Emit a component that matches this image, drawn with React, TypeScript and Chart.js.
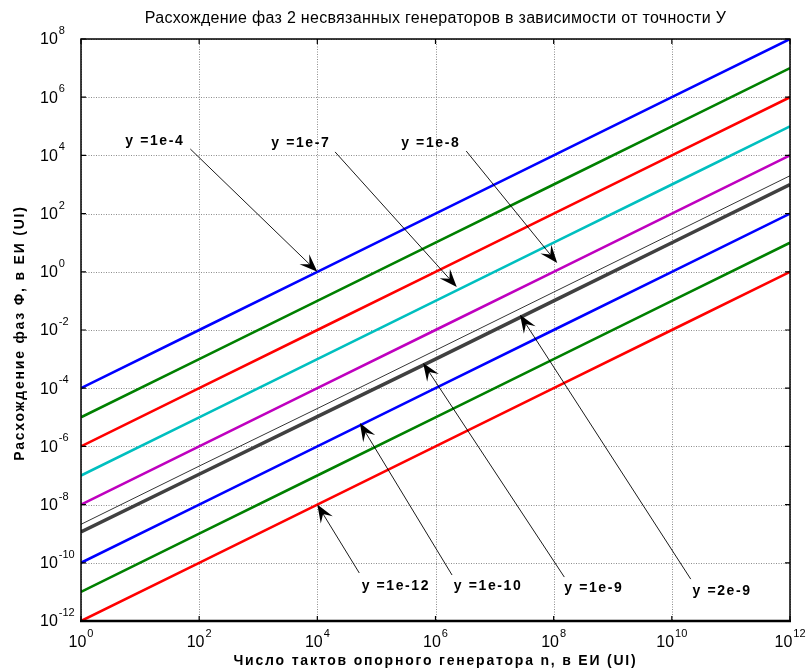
import React, { useEffect, useRef } from 'react';
import { Chart, registerables } from 'chart.js';

Chart.register(...registerables);

const TITLE = 'Расхождение фаз 2 несвязанных генераторов в зависимости от точности У';
const X_TITLE = 'Число тактов опорного генератора n, в ЕИ (UI)';
const Y_TITLE = 'Расхождение фаз Φ, в ЕИ (UI)';

// x values (number of reference clock cycles)
const N = [1, 1e2, 1e4, 1e6, 1e8, 1e10, 1e12];
// tick exponents
const X_TICK_EXP = [0, 2, 4, 6, 8, 10, 12];
const Y_TICK_EXP = [8, 6, 4, 2, 0, -2, -4, -6, -8, -10, -12];

// series values
const S_1E4 = [1e-4, 1e-2, 1, 1e2, 1e4, 1e6, 1e8];
const S_1E5 = [1e-5, 1e-3, 1e-1, 1e1, 1e3, 1e5, 1e7];
const S_1E6 = [1e-6, 1e-4, 1e-2, 1, 1e2, 1e4, 1e6];
const S_1E7 = [1e-7, 1e-5, 1e-3, 1e-1, 1e1, 1e3, 1e5];
const S_1E8 = [1e-8, 1e-6, 1e-4, 1e-2, 1, 1e2, 1e4];
const S_2E9 = [2.1e-9, 2.1e-7, 2e-5, 2e-3, 2e-1, 2e1, 2e3];
const S_1E9 = [1.15e-9, 1.1e-7, 1.05e-5, 1e-3, 1e-1, 1e1, 1e3];
const S_1E10 = [1e-10, 1e-8, 1e-6, 1e-4, 1e-2, 1, 1e2];
const S_1E11 = [1e-11, 1e-9, 1e-7, 1e-5, 1e-3, 1e-1, 1e1];
const S_1E12 = [1e-12, 1e-10, 1e-8, 1e-6, 1e-4, 1e-2, 1];

// annotations (in log10 data coordinates)
const ANN_LABELS = ['y =1e-4', 'y =1e-7', 'y =1e-8', 'y =1e-12', 'y =1e-10', 'y =1e-9', 'y =2e-9'];
const ANN_LABEL_AT = [[1.25, 4.49], [3.72, 4.43], [5.92, 4.43], [5.33, -10.8], [6.89, -10.8], [8.68, -10.87], [10.85, -10.97]];
const ANN_TAIL = [[1.85, 4.22], [4.3, 4.12], [6.52, 4.15], [4.71, -10.35], [6.28, -10.42], [8.18, -10.49], [10.32, -10.56]];
const ANN_TIP = [[4, 0], [6.36, -0.52], [8.06, 0.3], [4, -8], [4.72, -5.2], [5.79, -3.13], [7.43, -1.48]];

const FONT = '"Liberation Sans", Arial, Helvetica, sans-serif';

const SERIES = [
  { data: S_1E4, color: '#0000ff', width: 2.6 },
  { data: S_1E5, color: '#008000', width: 2.6 },
  { data: S_1E6, color: '#ff0000', width: 2.6 },
  { data: S_1E7, color: '#00bfbf', width: 2.6 },
  { data: S_1E8, color: '#bf00bf', width: 2.6 },
  { data: S_2E9, color: '#000000', width: 0.8 },
  { data: S_1E9, color: '#404040', width: 3.5 },
  { data: S_1E10, color: '#0000ff', width: 2.6 },
  { data: S_1E11, color: '#008000', width: 2.6 },
  { data: S_1E12, color: '#ff0000', width: 2.6 },
];

function drawArrow(ctx: CanvasRenderingContext2D, x1: number, y1: number, x2: number, y2: number) {
  const a = Math.atan2(y2 - y1, x2 - x1);
  const c = Math.cos(a), s = Math.sin(a);
  const L = 18, W = 7, notch = 11;
  ctx.save();
  ctx.strokeStyle = '#000';
  ctx.lineWidth = 0.9;
  ctx.beginPath();
  ctx.moveTo(x1, y1);
  ctx.lineTo(x2 - notch * c, y2 - notch * s);
  ctx.stroke();
  ctx.fillStyle = '#000';
  ctx.beginPath();
  ctx.moveTo(x2, y2);
  ctx.lineTo(x2 - L * c + W * s, y2 - L * s - W * c);
  ctx.lineTo(x2 - notch * c, y2 - notch * s);
  ctx.lineTo(x2 - L * c - W * s, y2 - L * s + W * c);
  ctx.closePath();
  ctx.fill();
  ctx.restore();
}

const decorPlugin = {
  id: 'decor',
  beforeDatasetsDraw(chart: any) {
    const { ctx, chartArea: a, scales } = chart;
    const xs = scales.x, ys = scales.y;
    ctx.save();
    ctx.strokeStyle = '#8c8c8c';
    ctx.lineWidth = 1;
    ctx.setLineDash([1, 1.5]);
    for (const e of X_TICK_EXP) {
      const x = Math.round(xs.getPixelForValue(Math.pow(10, e))) + 0.5;
      ctx.beginPath();
      ctx.moveTo(x, a.top);
      ctx.lineTo(x, a.bottom);
      ctx.stroke();
    }
    for (const e of Y_TICK_EXP) {
      const y = Math.round(ys.getPixelForValue(Math.pow(10, e))) + 0.5;
      ctx.beginPath();
      ctx.moveTo(a.left, y);
      ctx.lineTo(a.right, y);
      ctx.stroke();
    }
    ctx.restore();
  },
  afterDraw(chart: any) {
    const { ctx, chartArea: a, scales } = chart;
    const xs = scales.x, ys = scales.y;
    const px = (e: number) => xs.getPixelForValue(Math.pow(10, e));
    const py = (e: number) => ys.getPixelForValue(Math.pow(10, e));
    ctx.save();

    // frame
    ctx.strokeStyle = '#000';
    ctx.lineWidth = 1.5;
    ctx.strokeRect(a.left, a.top, a.right - a.left, a.bottom - a.top);
    ctx.lineWidth = 2.5;
    ctx.beginPath();
    ctx.moveTo(a.left - 1, a.bottom);
    ctx.lineTo(a.right + 1, a.bottom);
    ctx.stroke();

    // tick marks inside
    ctx.lineWidth = 1.2;
    const tl = 5;
    for (const e of X_TICK_EXP) {
      const x = px(e);
      ctx.beginPath();
      ctx.moveTo(x, a.bottom); ctx.lineTo(x, a.bottom - tl);
      ctx.moveTo(x, a.top); ctx.lineTo(x, a.top + tl);
      ctx.stroke();
    }
    for (const e of Y_TICK_EXP) {
      const y = py(e);
      ctx.beginPath();
      ctx.moveTo(a.left, y); ctx.lineTo(a.left + tl, y);
      ctx.moveTo(a.right, y); ctx.lineTo(a.right - tl, y);
      ctx.stroke();
    }

    // tick labels
    ctx.fillStyle = '#000';
    ctx.textBaseline = 'middle';
    const baseFont = `16px ${FONT}`;
    const expFont = `11px ${FONT}`;
    for (const e of Y_TICK_EXP) {
      const y = py(e);
      ctx.font = baseFont;
      ctx.textAlign = 'left';
      ctx.fillText('10', 40, y + 1);
      const w = ctx.measureText('10').width;
      ctx.font = expFont;
      ctx.fillText(String(e), 40 + w + 1, y - 8);
    }
    for (const e of X_TICK_EXP) {
      const x = px(e);
      ctx.font = baseFont;
      const w10 = ctx.measureText('10').width;
      ctx.font = expFont;
      const we = ctx.measureText(String(e)).width;
      const start = x - (w10 + 1 + we) / 2;
      ctx.textAlign = 'left';
      ctx.font = baseFont;
      ctx.fillText('10', start, 643);
      ctx.font = expFont;
      ctx.fillText(String(e), start + w10 + 1, 634);
    }

    // title
    ctx.textAlign = 'center';
    ctx.font = `16px ${FONT}`;
    (ctx as any).letterSpacing = '0.3px';
    ctx.fillText(TITLE, (a.left + a.right) / 2, 19);

    // axis titles
    ctx.font = `bold 14px ${FONT}`;
    (ctx as any).letterSpacing = '1.8px';
    ctx.fillText(X_TITLE, (a.left + a.right) / 2, 661);
    ctx.save();
    ctx.translate(20, (a.top + a.bottom) / 2 + 3);
    ctx.rotate(-Math.PI / 2);
    ctx.fillText(Y_TITLE, 0, 0);
    ctx.restore();

    // annotations
    ctx.font = `bold 14px ${FONT}`;
    (ctx as any).letterSpacing = '1.6px';
    for (let i = 0; i < ANN_LABELS.length; i++) {
      const [lx, ly] = ANN_LABEL_AT[i];
      ctx.fillText(ANN_LABELS[i], px(lx), py(ly));
      const [tx, ty] = ANN_TAIL[i];
      const [hx, hy] = ANN_TIP[i];
      drawArrow(ctx, px(tx), py(ty), px(hx), py(hy));
    }
    (ctx as any).letterSpacing = '0px';
    ctx.restore();
  },
};

export default function App() {
  const ref = useRef<HTMLCanvasElement>(null);
  useEffect(() => {
    const canvas = ref.current;
    if (!canvas) return;
    const chart = new Chart(canvas, {
      type: 'line',
      data: {
        datasets: SERIES.map((s) => ({
          data: N.map((n, i) => ({ x: n, y: s.data[i] })),
          borderColor: s.color,
          backgroundColor: s.color,
          borderWidth: s.width,
          pointRadius: 0,
          fill: false,
          tension: 0,
          borderJoinStyle: 'round' as const,
        })),
      },
      options: {
        animation: false,
        responsive: false,
        devicePixelRatio: 1,
        layout: { padding: { top: 39, right: 16, left: 0, bottom: 0 } },
        plugins: {
          legend: { display: false },
          title: { display: false },
          tooltip: { enabled: false },
        },
        scales: {
          x: {
            type: 'logarithmic',
            min: 1,
            max: 1e12,
            ticks: { display: false },
            grid: { display: false, drawTicks: false },
            border: { display: false },
            afterBuildTicks: (s: any) => {
              s.ticks = X_TICK_EXP.map((e) => ({ value: Math.pow(10, e) }));
            },
            afterFit: (s: any) => {
              s.height = 51;
            },
          },
          y: {
            type: 'logarithmic',
            min: 1e-12,
            max: 1e8,
            ticks: { display: false },
            grid: { display: false, drawTicks: false },
            border: { display: false },
            afterBuildTicks: (s: any) => {
              s.ticks = Y_TICK_EXP.map((e) => ({ value: Math.pow(10, e) }));
            },
            afterFit: (s: any) => {
              s.width = 81;
            },
          },
        },
      } as any,
      plugins: [decorPlugin],
    });
    return () => chart.destroy();
  }, []);
  return (
    <div style={{ position: 'fixed', left: 0, top: 0, width: 806, height: 672, background: '#fff' }}>
      <canvas ref={ref} width={806} height={672} style={{ display: 'block', width: 806, height: 672 }} />
    </div>
  );
}
